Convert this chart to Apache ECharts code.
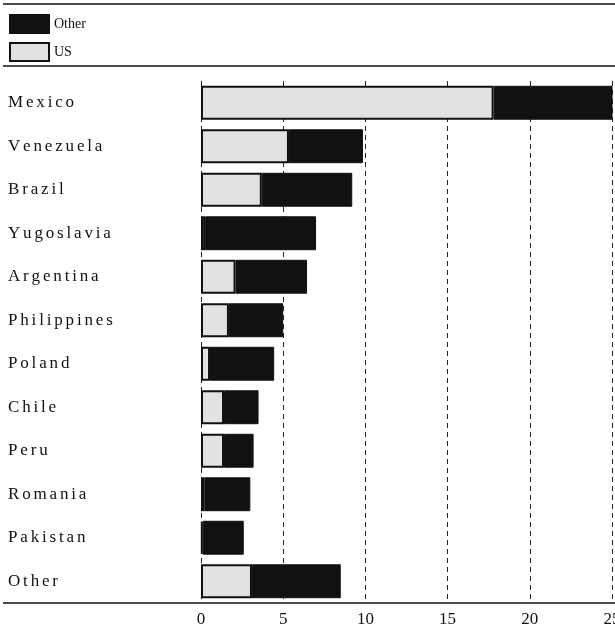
<!DOCTYPE html>
<html><head><meta charset="utf-8">
<script src="https://cdn.jsdelivr.net/npm/echarts@6/dist/echarts.min.js"></script>
<style>html,body{margin:0;padding:0;background:#fff}#c{width:615px;height:631px}</style>
</head><body><div id="c"></div>
<script>
const categories = ['Mexico','Venezuela','Brazil','Yugoslavia','Argentina','Philippines','Poland','Chile','Peru','Romania','Pakistan','Other'];
const usValues = [17.8, 5.35, 3.7, 0.25, 2.1, 1.7, 0.55, 1.4, 1.4, 0.2, 0.1, 3.1];
const totalValues = [25.5, 9.85, 9.2, 7.0, 6.45, 5.0, 4.45, 3.5, 3.2, 3.0, 2.6, 8.5];
const otherValues = totalValues.map((t, i) => +(t - usValues[i]).toFixed(2));
const xTicks = [0, 5, 10, 15, 20, 25];

const serif = '"Liberation Serif", "DejaVu Serif", serif';
const chart = echarts.init(document.getElementById('c'));
chart.setOption({
  animation: false,
  backgroundColor: '#fff',
  grid: { left: 201, right: 3, top: 81, bottom: 28, containLabel: false, outerBoundsMode: 'none' },
  legend: {
    orient: 'vertical', left: 4, top: 9, itemWidth: 39, itemHeight: 18, itemGap: 8,
    icon: 'rect',
    data: ['Other', 'US'],
    textStyle: { fontFamily: serif, fontSize: 14, color: '#111' }
  },
  xAxis: {
    type: 'value', min: 0, max: 25, interval: 5,
    axisLine: { show: false }, axisTick: { show: false },
    axisLabel: { fontFamily: serif, fontSize: 17, color: '#111', margin: 8,
      formatter: v => xTicks.includes(v) ? String(v) : '' },
    splitLine: { show: true, lineStyle: { color: '#222', type: [5, 4], width: 1 } }
  },
  yAxis: {
    type: 'category', inverse: true, data: categories,
    axisLine: { show: false }, axisTick: { show: false },
    axisLabel: { align: 'left', margin: 193, fontFamily: serif, fontSize: 17, color: '#111',
      formatter: v => v.split('').join('\u2006') }
  },
  series: [
    { name: 'US', type: 'bar', stack: 't', data: usValues, barWidth: '78%',
      itemStyle: { color: '#e2e2e2', borderColor: '#111', borderWidth: 2 } },
    { name: 'Other', type: 'bar', stack: 't', data: otherValues, barWidth: '78%',
      itemStyle: { color: '#111', borderColor: '#111', borderWidth: 1 } }
  ],
  graphic: [
    { type: 'line', shape: { x1: 3, y1: 4, x2: 615, y2: 4 }, style: { stroke: '#111', lineWidth: 1.5 } },
    { type: 'line', shape: { x1: 3, y1: 66, x2: 615, y2: 66 }, style: { stroke: '#111', lineWidth: 1.5 } },
    { type: 'line', shape: { x1: 3, y1: 603, x2: 615, y2: 603 }, style: { stroke: '#111', lineWidth: 1.5 } }
  ]
});
</script></body></html>
